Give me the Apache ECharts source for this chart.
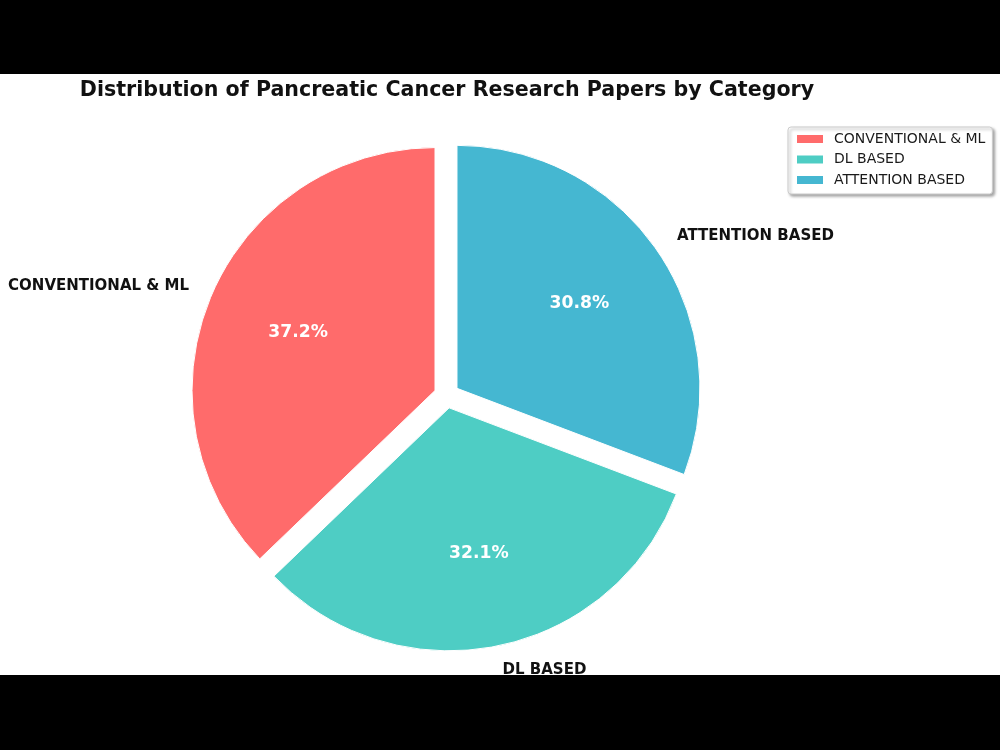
<!DOCTYPE html>
<html>
<head>
<meta charset="utf-8">
<script src="https://cdn.jsdelivr.net/npm/echarts@6/dist/echarts.min.js"></script>
<style>
  html, body { margin: 0; padding: 0; background: #000; width: 1000px; height: 750px; overflow: hidden; }
  #chart { position: absolute; left: 0; top: 74px; width: 1000px; height: 601px; background: #fff; }
</style>
</head>
<body>
<div id="chart"></div>
<script>
const titleText = 'Distribution of Pancreatic Cancer Research Papers by Category';
const categories = ['CONVENTIONAL & ML', 'DL BASED', 'ATTENTION BASED'];
const paperCounts = [29, 25, 24];
const colors = ['#FF6B6B', '#4ECDC4', '#45B7D1'];

const total = paperCounts.reduce((a, b) => a + b, 0);
const FONT = 'DejaVu Sans';
const R = 243;
const CENTER = [446.6, 321.5];
const OFFSET = 12.6;

function makeData(transparent) {
  return categories.map((name, i) => ({
    name: name,
    value: paperCounts[i],
    selected: true,
    itemStyle: transparent ? { color: 'rgba(0,0,0,0)', borderWidth: 0 } : { color: colors[i] }
  }));
}

const chart = echarts.init(document.getElementById('chart'), null, { renderer: 'canvas' });
chart.setOption({
  animation: false,
  backgroundColor: '#fff',
  title: {
    text: titleText,
    left: 442,
    textAlign: 'center',
    top: 1,
    textStyle: { fontFamily: FONT, fontWeight: 'bold', fontSize: 20.6, color: '#111' }
  },
  legend: {
    orient: 'vertical',
    left: 788,
    top: 53,
    data: categories,
    icon: 'rect',
    itemWidth: 28,
    itemHeight: 10,
    itemGap: 6.5,
    padding: [5, 7, 7, 7],
    backgroundColor: '#fff',
    borderColor: '#cccccc',
    borderWidth: 1,
    borderRadius: 3,
    shadowColor: 'rgba(0,0,0,0.35)',
    shadowBlur: 3,
    shadowOffsetX: 2,
    shadowOffsetY: 2,
    selectedMode: false,
    textStyle: { fontFamily: FONT, fontSize: 14, color: '#1a1a1a', padding: [0, 0, 0, 5] }
  },
  series: [
    {
      type: 'pie',
      name: 'slices',
      center: CENTER,
      radius: [0, R],
      startAngle: 90,
      clockwise: false,
      selectedMode: 'multiple',
      selectedOffset: OFFSET,
      avoidLabelOverlap: false,
      silent: true,
      itemStyle: { borderColor: '#fff', borderWidth: 1 },
      label: {
        show: true,
        position: 'outside',
        formatter: '{b}',
        distanceToLabelLine: 0,
        fontFamily: FONT,
        fontWeight: 'bold',
        fontSize: 15,
        color: '#111'
      },
      labelLine: { show: false, length: R * 0.1, length2: 0 },
      emphasis: { disabled: true },
      data: makeData(false)
    },
    {
      type: 'pie',
      name: 'pct',
      center: CENTER,
      radius: [0, R * 1.2],
      startAngle: 90,
      clockwise: false,
      selectedMode: 'multiple',
      selectedOffset: OFFSET,
      avoidLabelOverlap: false,
      silent: true,
      label: {
        show: true,
        position: 'inside',
        formatter: p => (p.value / total * 100).toFixed(1) + '%',
        fontFamily: FONT,
        fontWeight: 'bold',
        fontSize: 17.2,
        color: '#fff'
      },
      labelLine: { show: false },
      emphasis: { disabled: true },
      data: makeData(true)
    }
  ]
});
</script>
</body>
</html>
